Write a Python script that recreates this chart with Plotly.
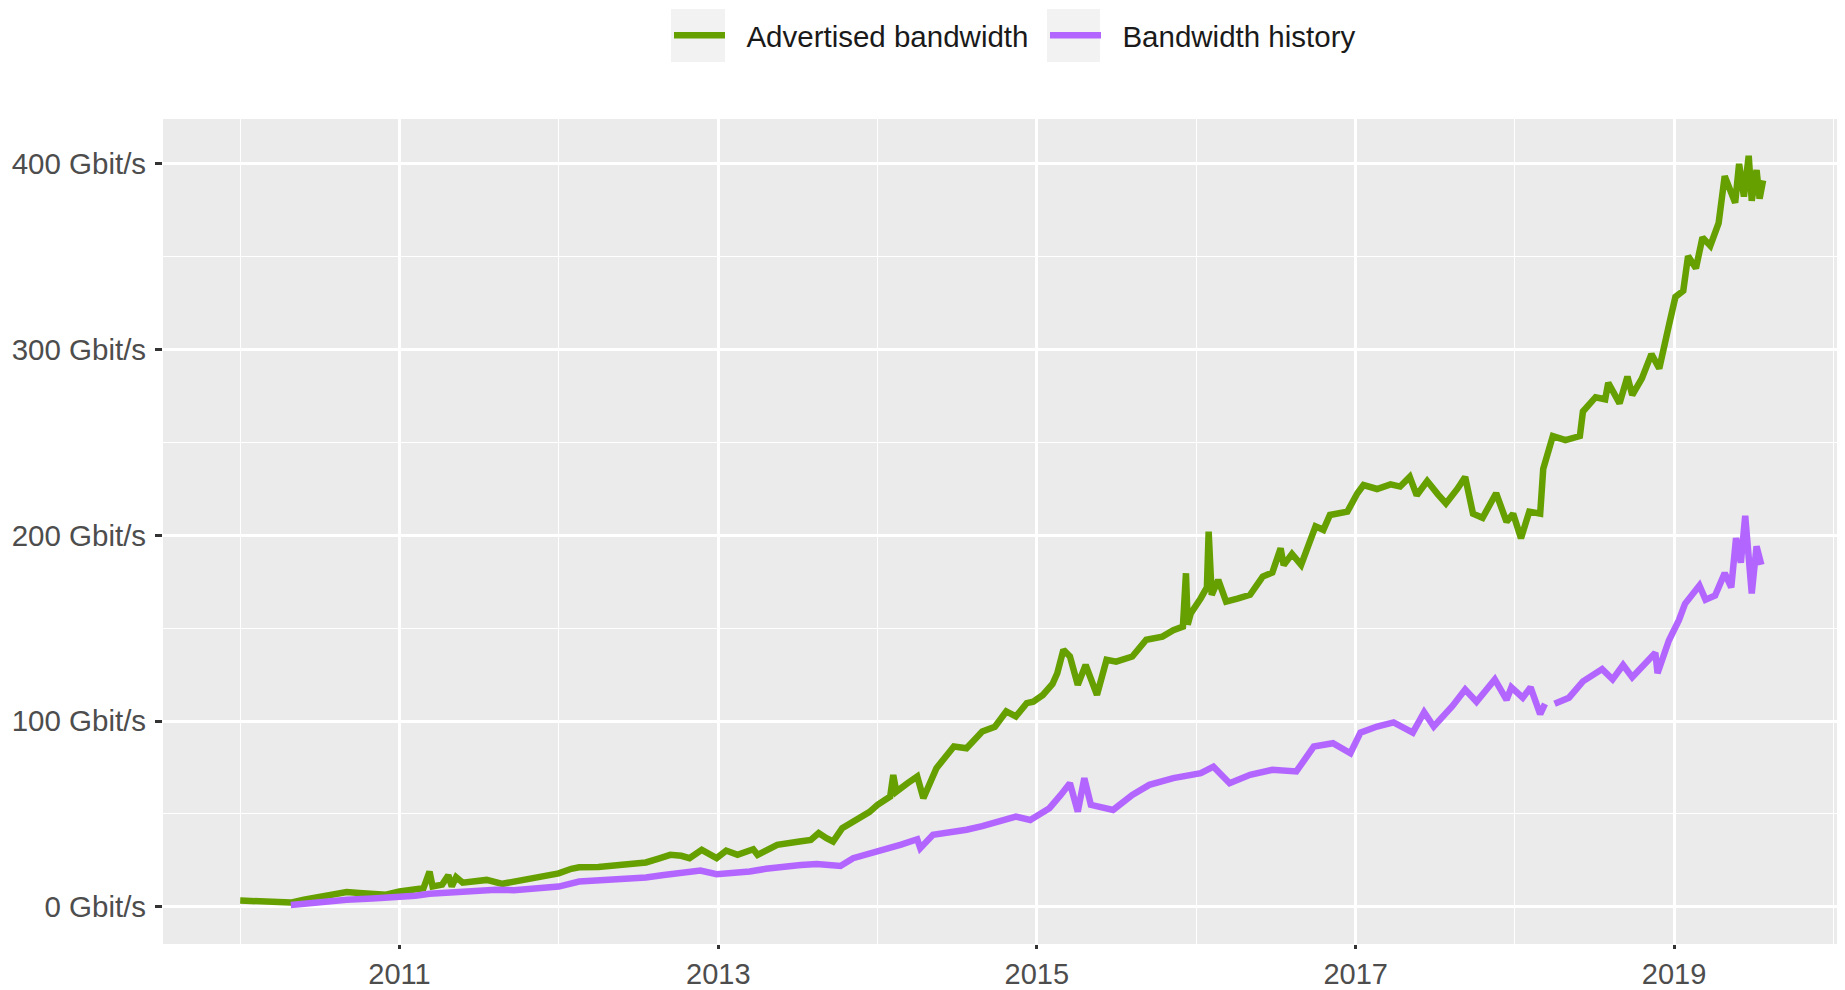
import plotly.graph_objects as go

# ---------------- data ----------------
adv_dates = [
    "2010-01-01", "2010-01-30", "2010-03-04", "2010-04-01", "2010-04-27", "2010-05-27",
    "2010-07-01", "2010-07-31", "2010-09-02", "2010-10-01", "2010-10-31", "2010-12-01",
    "2011-01-01", "2011-01-30", "2011-02-25", "2011-03-11", "2011-03-18", "2011-04-09",
    "2011-04-23", "2011-05-01", "2011-05-11", "2011-05-26", "2011-06-24", "2011-07-20",
    "2011-08-25", "2011-09-20", "2011-10-26", "2011-12-01", "2012-01-01", "2012-01-30",
    "2012-02-17", "2012-04-01", "2012-05-04", "2012-06-13", "2012-07-19", "2012-08-17",
    "2012-09-13", "2012-10-08", "2012-10-27", "2012-11-24", "2012-12-13", "2012-12-28",
    "2013-01-19", "2013-02-14", "2013-03-22", "2013-04-01", "2013-05-16", "2013-06-14",
    "2013-07-06", "2013-08-01", "2013-08-19", "2013-09-06", "2013-09-21", "2013-10-12",
    "2013-11-21", "2013-12-13", "2014-01-01", "2014-01-30", "2014-02-06", "2014-02-13",
    "2014-03-11", "2014-04-02", "2014-04-16", "2014-05-01", "2014-05-16", "2014-06-25",
    "2014-07-24", "2014-08-29", "2014-09-27", "2014-10-23", "2014-11-14", "2014-12-09",
    "2014-12-24", "2015-01-15", "2015-02-06", "2015-02-17", "2015-03-03", "2015-03-18",
    "2015-04-05", "2015-04-23", "2015-05-08", "2015-05-19", "2015-06-10", "2015-07-02",
    "2015-08-08", "2015-09-09", "2015-10-16", "2015-11-10", "2015-12-02", "2015-12-09",
    "2015-12-13", "2015-12-20", "2016-01-12", "2016-01-26", "2016-01-30", "2016-02-06",
    "2016-02-21", "2016-03-10", "2016-04-05", "2016-05-04", "2016-06-02", "2016-06-24",
    "2016-07-13", "2016-07-20", "2016-08-08", "2016-08-29", "2016-10-01", "2016-10-19",
    "2016-11-03", "2016-12-13", "2017-01-05", "2017-01-19", "2017-02-19", "2017-03-22",
    "2017-04-13", "2017-05-05", "2017-05-21", "2017-06-14", "2017-07-09", "2017-07-27",
    "2017-08-22", "2017-09-09", "2017-09-27", "2017-10-19", "2017-11-19", "2017-12-13",
    "2017-12-28", "2018-01-15", "2018-02-03", "2018-02-28", "2018-03-07", "2018-03-29",
    "2018-04-27", "2018-05-30", "2018-06-06", "2018-07-05", "2018-07-27", "2018-08-03",
    "2018-08-29", "2018-09-16", "2018-09-27", "2018-10-19", "2018-11-10", "2018-11-28",
    "2018-12-20", "2019-01-04", "2019-01-22", "2019-02-02", "2019-02-20", "2019-03-07",
    "2019-03-25", "2019-04-13", "2019-04-27", "2019-05-08", "2019-05-21", "2019-05-30",
    "2019-06-10", "2019-06-21", "2019-06-28", "2019-07-09", "2019-07-16", "2019-07-24",
]
adv_gbit = [
    3.4, 3.2, 3.0, 2.8, 2.3, 3.8,
    5.0, 6.5, 8.0, 7.5, 7.0, 6.5,
    8.3, 8.8, 10.0, 19.0, 11.0, 12.0,
    17.0, 11.0, 16.0, 13.0, 13.5, 14.5,
    12.4, 13.5, 14.5, 16.3, 18.0, 20.5,
    21.3, 21.5, 22.0, 22.5, 23.9, 26.0,
    28.0, 27.5, 26.2, 30.7, 28.0, 26.3,
    30.3, 28.0, 31.0, 28.0, 33.4, 34.0,
    35.2, 36.0, 39.7, 37.0, 35.2, 42.4,
    47.7, 51.0, 54.9, 59.4, 71.0, 62.0,
    66.6, 70.2, 58.5, 66.0, 74.7, 86.3,
    85.4, 94.4, 97.0, 105.2, 102.5, 109.7,
    110.5, 114.1, 120.0, 125.8, 138.4, 134.8,
    119.5, 130.3, 121.0, 114.1, 133.0, 132.0,
    134.8, 143.8, 145.5, 149.0, 150.9, 179.6,
    152.0, 158.0, 166.2, 172.0, 202.0, 168.0,
    176.0, 164.4, 166.0, 168.0, 177.8, 180.0,
    193.1, 184.0, 190.0, 184.1, 204.9, 203.0,
    211.0, 212.8, 222.7, 227.1, 225.0, 227.5,
    226.3, 231.5, 221.6, 229.3, 222.0, 217.2,
    225.0, 231.5, 211.7, 209.5, 222.7, 207.3,
    211.7, 198.5, 212.8, 211.7, 235.9, 253.5,
    251.3, 253.5, 266.7, 274.4, 273.3, 282.2,
    271.1, 285.5, 275.6, 284.4, 297.6, 289.9,
    313.0, 328.4, 331.7, 350.4, 343.8, 360.4,
    356.0, 368.1, 393.4, 385.7, 379.1, 400.0,
    382.4, 404.4, 380.2, 396.7, 381.3, 391.2,
]

hist_dates = [
    "2010-04-27", "2010-06-03", "2010-07-01", "2010-07-31", "2010-09-02", "2010-10-31",
    "2011-01-01", "2011-02-07", "2011-03-11", "2011-04-20", "2011-06-13", "2011-08-10",
    "2011-09-20", "2011-10-26", "2011-12-01", "2012-01-01", "2012-02-17", "2012-04-20",
    "2012-06-13", "2012-07-19", "2012-08-29", "2012-10-12", "2012-11-21", "2012-12-28",
    "2013-01-26", "2013-03-14", "2013-04-20", "2013-05-30", "2013-07-09", "2013-08-15",
    "2013-10-08", "2013-11-06", "2013-12-13", "2014-01-15", "2014-02-24", "2014-04-02",
    "2014-04-09", "2014-05-08", "2014-06-13", "2014-07-24", "2014-08-29", "2014-10-08",
    "2014-11-14", "2014-12-17", "2015-01-30", "2015-02-24", "2015-03-18", "2015-04-05",
    "2015-04-20", "2015-05-05", "2015-05-27", "2015-06-25", "2015-08-08", "2015-09-16",
    "2015-11-10", "2015-12-13", "2016-01-12", "2016-02-10", "2016-03-18", "2016-05-04",
    "2016-06-24", "2016-08-18", "2016-09-27", "2016-11-10", "2016-12-20", "2017-01-12",
    "2017-02-19", "2017-03-29", "2017-05-12", "2017-06-07", "2017-06-29", "2017-08-11",
    "2017-09-09", "2017-10-05", "2017-11-16", "2017-12-13", "2017-12-24", "2018-01-19",
    "2018-02-06", "2018-02-28", "2018-03-11", "2018-03-21", "2018-04-02", "2018-05-05",
    "2018-06-06", "2018-07-20", "2018-08-13", "2018-09-06", "2018-09-27", "2018-10-27",
    "2018-11-19", "2018-11-24", "2018-12-20", "2019-01-12", "2019-01-26", "2019-02-28",
    "2019-03-14", "2019-04-05", "2019-04-27", "2019-05-12", "2019-05-23", "2019-06-03",
    "2019-06-13", "2019-06-28", "2019-07-09", "2019-07-20",
]
hist_gbit = [
    1.0, 2.0, 2.8, 3.2, 3.8, 4.5,
    5.2, 6.0, 7.0, 7.8, 8.6, 9.2,
    9.0, 9.5, 10.0, 10.9, 13.6, 14.2,
    14.9, 15.8, 17.2, 18.0, 19.5, 17.6,
    18.1, 19.0, 20.5, 21.7, 22.5, 23.1,
    22.0, 26.2, 28.5, 31.0, 33.5, 36.4,
    31.6, 38.8, 40.0, 41.5, 43.5, 45.9,
    48.6, 46.8, 53.1, 60.0, 66.6, 51.3,
    69.3, 54.9, 54.0, 52.2, 60.3, 65.7,
    69.3, 70.5, 72.0, 75.5, 66.6, 71.1,
    73.8, 72.9, 86.3, 88.1, 82.7, 93.8,
    97.1, 99.3, 93.8, 104.8, 97.1, 108.2,
    117.0, 110.4, 122.5, 111.5, 118.2, 112.6,
    118.2, 103.7, 109.3, None, 109.3, 112.6,
    121.4, 128.0, 122.5, 130.2, 123.6, 131.3,
    136.8, 125.8, 143.4, 154.4, 163.2, 173.0,
    165.4, 167.6, 179.7, 172.0, 198.5, 185.3,
    210.6, 168.7, 194.1, 184.2,
]

series_names = ["Advertised bandwidth", "Bandwidth history"]
series_colors = ["#66A000", "#B366FF"]

y_tickvals = [0, 100, 200, 300, 400]
y_ticktext = ["0 Gbit/s", "100 Gbit/s", "200 Gbit/s", "300 Gbit/s", "400 Gbit/s"]
y_minor = [50, 150, 250, 350]
x_tickvals = ["2011-01-01", "2013-01-01", "2015-01-01", "2017-01-01", "2019-01-01"]
x_ticktext = ["2011", "2013", "2015", "2017", "2019"]
x_minor = ["2010-01-01", "2012-01-01", "2014-01-01", "2016-01-01", "2018-01-01", "2020-01-01"]

# ---------------- layout geometry (pixels) ----------------
# the page body adds an 8px offset, so the figure is 8px smaller than the window
OFF = 8
W, H = 1845 - OFF, 990 - OFF
PANEL = (163, 119, 1839, 944)          # left, top, right, bottom in window pixels
ML, MT = PANEL[0] - OFF, PANEL[1] - OFF
MR, MB = W - (PANEL[2] - OFF), H - (PANEL[3] - OFF)
PW, PH = W - ML - MR, H - MT - MB


def px_x(p):
    return (p - OFF - ML) / PW


def px_y(p):
    return (H - MB - (p - OFF)) / PH


FONT = "Liberation Sans, Arial, Helvetica, sans-serif"
ITEMW = 51                  # legend symbol length
KEY_Y = (9, 62)             # grey key boxes, top/bottom rows (window px)
KEYS_X = [(671, 725), (1047, 1100)]
LINE_X = [675, 1051]        # legend symbol start (window px)
PAD = "\u00a0\u00a0"        # extra gap between key and label, as in ggplot

fig = go.Figure()
fig.add_trace(go.Scatter(x=adv_dates, y=adv_gbit, mode="lines", name=PAD + series_names[0],
                         line=dict(color=series_colors[0], width=6.5), legend="legend"))
fig.add_trace(go.Scatter(x=hist_dates, y=hist_gbit, mode="lines", name=PAD + series_names[1],
                         line=dict(color=series_colors[1], width=6.5), legend="legend2"))

# grey legend-key backgrounds (ggplot style)
for x0, x1 in KEYS_X:
    fig.add_shape(type="rect", xref="paper", yref="paper", x0=px_x(x0), x1=px_x(x1),
                  y0=px_y(KEY_Y[1]), y1=px_y(KEY_Y[0]), fillcolor="#F2F2F2",
                  line=dict(width=0), layer="below")

legend_common = dict(xanchor="left", yanchor="middle", y=px_y(sum(KEY_Y) / 2),
                     font=dict(size=29.5, color="#1A1A1A", family=FONT),
                     bgcolor="rgba(0,0,0,0)", borderwidth=0, itemwidth=ITEMW)

fig.update_layout(
    width=W, height=H,
    margin=dict(l=ML, r=MR, t=MT, b=MB, autoexpand=False),
    paper_bgcolor="white",
    plot_bgcolor="#EBEBEB",
    font=dict(family=FONT, size=29, color="#4D4D4D"),
    showlegend=True,
    legend=dict(x=px_x(LINE_X[0] - 6), **legend_common),
    legend2=dict(x=px_x(LINE_X[1] - 6), **legend_common),
    xaxis=dict(
        type="date", automargin=False,
        range=["2009-07-08", "2020-01-14"],
        tickmode="array", tickvals=x_tickvals, ticktext=x_ticktext,
        showgrid=True, gridcolor="white", gridwidth=2.6,
        ticks="outside", ticklen=4, tickwidth=2.5, tickcolor="#333333",
        tickfont=dict(size=29, color="#4D4D4D", family=FONT),
        zeroline=False, showline=False,
        minor=dict(tickmode="array", tickvals=x_minor, showgrid=True,
                   gridcolor="white", gridwidth=1.3, ticks=""),
    ),
    yaxis=dict(
        automargin=False,
        range=[-20.0, 424.2],
        tickmode="array", tickvals=y_tickvals, ticktext=y_ticktext,
        showgrid=True, gridcolor="white", gridwidth=2.6,
        ticks="outside", ticklen=7, tickwidth=2.5, tickcolor="#333333",
        tickfont=dict(size=29.5, color="#4D4D4D", family=FONT),
        ticklabelstandoff=3,
        zeroline=False, showline=False,
        minor=dict(tickmode="array", tickvals=y_minor, showgrid=True,
                   gridcolor="white", gridwidth=1.3, ticks=""),
    ),
)

fig.write_html("out.html")
